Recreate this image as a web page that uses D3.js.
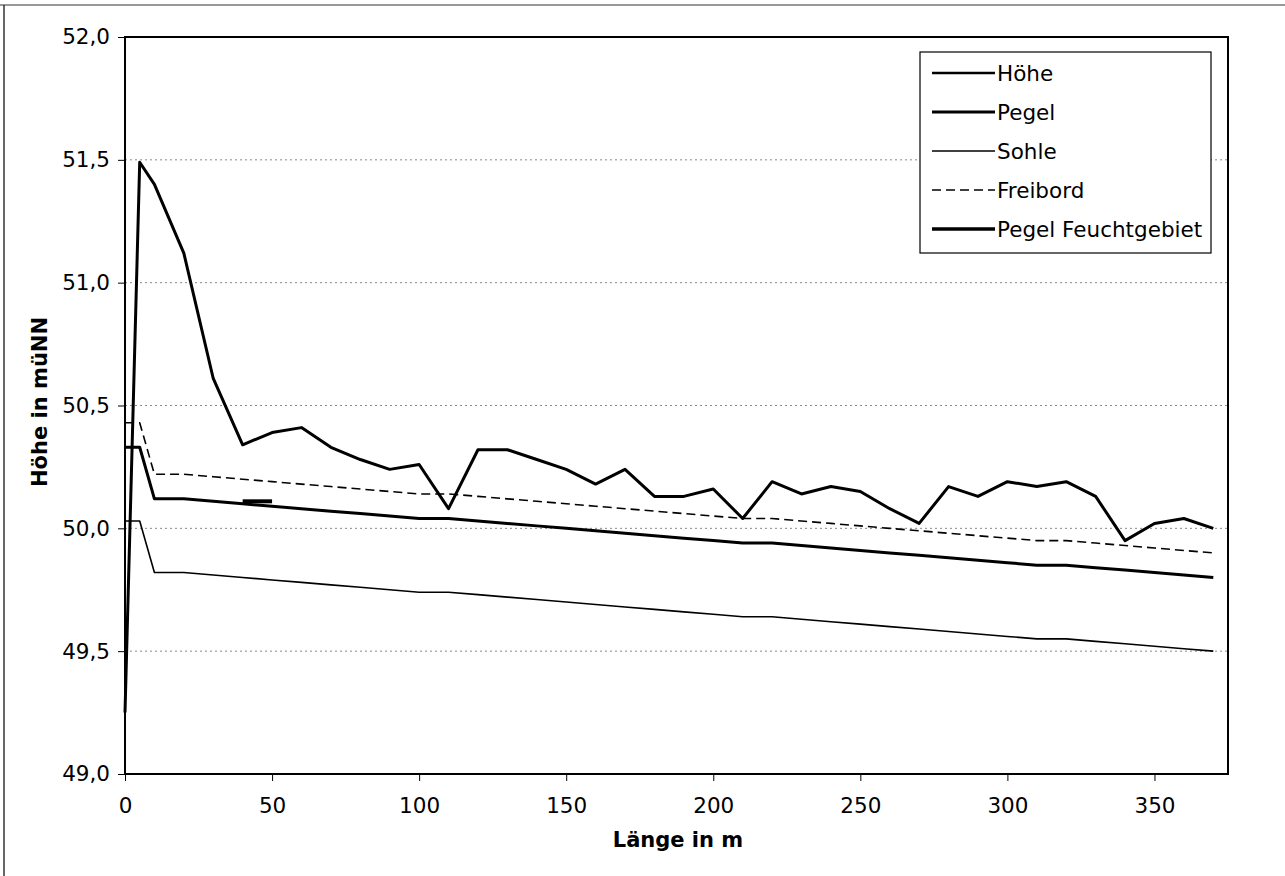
<!DOCTYPE html>
<html>
<head>
<meta charset="utf-8">
<script src="https://cdn.jsdelivr.net/npm/d3@7"></script>
<style>
  body { margin: 0; background: #fff; }
  text { font-family: "DejaVu Sans", Verdana, sans-serif; }
</style>
</head>
<body>
<div class="chart"></div>
<script>
// data (Länge in m / Höhe in müNN)
const laenge = [0, 5, 10, 20, 30, 40, 50, 60, 70, 80, 90, 100, 110, 120, 130, 140, 150, 160, 170, 180,
                190, 200, 210, 220, 230, 240, 250, 260, 270, 280, 290, 300, 310, 320, 330, 340, 350, 360, 370];
const hoehe = [49.25, 51.49, 51.40, 51.12, 50.61, 50.34, 50.39, 50.41, 50.33, 50.28, 50.24, 50.26, 50.08,
               50.32, 50.32, 50.28, 50.24, 50.18, 50.24, 50.13, 50.13, 50.16, 50.04, 50.19, 50.14, 50.17,
               50.15, 50.08, 50.02, 50.17, 50.13, 50.19, 50.17, 50.19, 50.13, 49.95, 50.02, 50.04, 50.00];
const pegel = [50.33, 50.33, 50.12, 50.12, 50.11, 50.10, 50.09, 50.08, 50.07, 50.06, 50.05, 50.04, 50.04,
               50.03, 50.02, 50.01, 50.00, 49.99, 49.98, 49.97, 49.96, 49.95, 49.94, 49.94, 49.93, 49.92,
               49.91, 49.90, 49.89, 49.88, 49.87, 49.86, 49.85, 49.85, 49.84, 49.83, 49.82, 49.81, 49.80];
const sohle = [50.03, 50.03, 49.82, 49.82, 49.81, 49.80, 49.79, 49.78, 49.77, 49.76, 49.75, 49.74, 49.74,
               49.73, 49.72, 49.71, 49.70, 49.69, 49.68, 49.67, 49.66, 49.65, 49.64, 49.64, 49.63, 49.62,
               49.61, 49.60, 49.59, 49.58, 49.57, 49.56, 49.55, 49.55, 49.54, 49.53, 49.52, 49.51, 49.50];
const freibord = [50.43, 50.43, 50.22, 50.22, 50.21, 50.20, 50.19, 50.18, 50.17, 50.16, 50.15, 50.14, 50.14,
                  50.13, 50.12, 50.11, 50.10, 50.09, 50.08, 50.07, 50.06, 50.05, 50.04, 50.04, 50.03, 50.02,
                  50.01, 50.00, 49.99, 49.98, 49.97, 49.96, 49.95, 49.95, 49.94, 49.93, 49.92, 49.91, 49.90];
const feuchtLaenge = [40, 50];
const feuchtPegel = [50.11, 50.11];

const xTicks = [0, 50, 100, 150, 200, 250, 300, 350];
const yTicks = [49.0, 49.5, 50.0, 50.5, 51.0, 51.5, 52.0];
const seriesNames = ["Höhe", "Pegel", "Sohle", "Freibord", "Pegel Feuchtgebiet"];

// helpers
const append_text = function(g, x, y, txt, size, weight) {
    return g.append("text").attr("x", x).attr("y", y)
        .attr("font-size", size).attr("font-weight", weight || "normal")
        .attr("fill", "#000").text(txt);
};

const svg = d3.select(".chart").append("svg")
    .attr("width", 1285).attr("height", 876);

// page frame (scan edges)
svg.append("line").attr("x1", 0).attr("x2", 1285).attr("y1", 5).attr("y2", 5)
    .attr("stroke", "#777").attr("stroke-width", 1.5);
svg.append("line").attr("x1", 4).attr("x2", 4).attr("y1", 5).attr("y2", 876)
    .attr("stroke", "#333").attr("stroke-width", 1.5);

const pLeft = 125, pRight = 1228, pTop = 37, pBottom = 774;
const x = d3.scaleLinear().domain([0, 375]).range([pLeft, pRight]);
const y = d3.scaleLinear().domain([49, 52]).range([pBottom, pTop]);
const fmt = d => d3.format(".1f")(d).replace(".", ",");

// grid
svg.append("g").selectAll("line").data(yTicks.filter(d => d > 49 && d < 52)).join("line")
    .attr("x1", pLeft).attr("x2", pRight)
    .attr("y1", d => y(d)).attr("y2", d => y(d))
    .attr("stroke", "#8a8a8a").attr("stroke-width", 1).attr("stroke-dasharray", "2,3");

// axes
const gx = svg.append("g").attr("transform", `translate(0,${pBottom})`)
    .call(d3.axisBottom(x).tickValues(xTicks).tickSize(7).tickPadding(17));
const gy = svg.append("g").attr("transform", `translate(${pLeft},0)`)
    .call(d3.axisLeft(y).tickValues(yTicks).tickFormat(fmt).tickSize(7).tickPadding(8));
[gx, gy].forEach(g => {
    g.select(".domain").remove();
    g.selectAll("text").attr("font-size", 21.5).attr("fill", "#000")
        .attr("font-family", "'DejaVu Sans', Verdana, sans-serif");
    g.selectAll("line").attr("stroke", "#000");
});

// plot border
svg.append("rect").attr("x", pLeft).attr("y", pTop)
    .attr("width", pRight - pLeft).attr("height", pBottom - pTop)
    .attr("fill", "none").attr("stroke", "#000").attr("stroke-width", 2);

// series
const line = d3.line().x(d => x(d[0])).y(d => y(d[1]));
const series = [
    { vals: d3.zip(laenge, sohle), w: 1.6, dash: null },
    { vals: d3.zip(laenge, freibord), w: 1.6, dash: "9,5" },
    { vals: d3.zip(laenge, pegel), w: 3, dash: null },
    { vals: d3.zip(feuchtLaenge, feuchtPegel), w: 4, dash: null },
    { vals: d3.zip(laenge, hoehe), w: 3, dash: null }
];
series.forEach(s => {
    svg.append("path").datum(s.vals).attr("d", line)
        .attr("fill", "none").attr("stroke", "#000")
        .attr("stroke-width", s.w).attr("stroke-linejoin", "round")
        .attr("stroke-dasharray", s.dash);
});

// axis titles
append_text(svg, 678, 847, "Länge in m", 21, "bold").attr("text-anchor", "middle");
append_text(svg, 0, 0, "Höhe in müNN", 21, "bold").attr("text-anchor", "middle")
    .attr("transform", "translate(47,402) rotate(-90)");

// legend
const lg = svg.append("g");
lg.append("rect").attr("x", 920).attr("y", 52).attr("width", 291).attr("height", 201)
    .attr("fill", "#fff").attr("stroke", "#000").attr("stroke-width", 1.2);
const legW = [2.5, 3, 1.6, 1.6, 3.5];
const legDash = [null, null, null, "9,5", null];
seriesNames.forEach((n, i) => {
    const ly = 73 + i * 39;
    lg.append("line").attr("x1", 932).attr("x2", 995).attr("y1", ly).attr("y2", ly)
        .attr("stroke", "#000").attr("stroke-width", legW[i]).attr("stroke-dasharray", legDash[i]);
    append_text(lg, 997, ly + 8, n, 21.5);
});
</script>
</body>
</html>
